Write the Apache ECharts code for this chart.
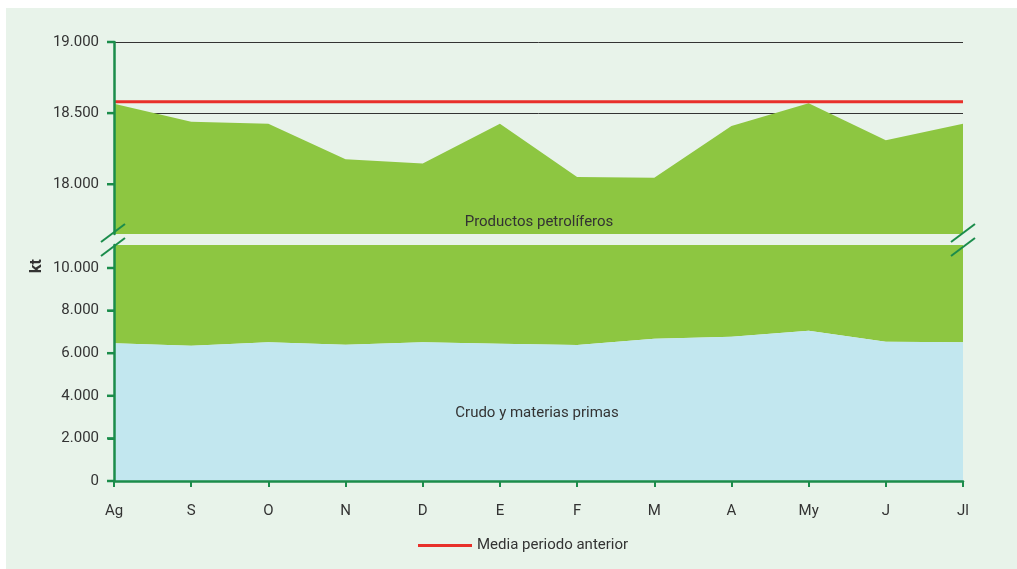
<!DOCTYPE html>
<html>
<head>
<meta charset="utf-8">
<script src="https://cdn.jsdelivr.net/npm/echarts@6/dist/echarts.min.js"></script>
<style>
html,body{margin:0;padding:0;background:#fff;}
#c{width:1017px;height:569px;}
</style>
</head>
<body>
<div id="c"></div>
<script>
const months = ['Ag','S','O','N','D','E','F','M','A','My','J','Jl'];
const crude = [6465, 6350, 6510, 6400, 6510, 6445, 6385, 6680, 6775, 7055, 6540, 6510];
const products = [12100, 12090, 11915, 11775, 11635, 11980, 11665, 11365, 11635, 11515, 11770, 11915];
const prevMean = 18580;
const topTicks = [18000, 18500, 19000];
const bottomTicks = [0, 2000, 4000, 6000, 8000, 10000];

const totals = crude.map((v, i) => v + products[i]);
const meanLine = months.map(() => prevMean);

const FONT = 'Roboto, "Liberation Sans", sans-serif';
const GREEN_AXIS = '#1b8c4b';
const TXT = '#333333';
const fmt = v => String(v).replace(/\B(?=(\d{3})+(?!\d))/g, '.');

const chart = echarts.init(document.getElementById('c'), null, {renderer: 'canvas'});
const breakStyle = {stroke: GREEN_AXIS, lineWidth: 2};
const baseGraphics = [
  {type: 'rect', z: -100, silent: true, shape: {x: 6, y: 8, width: 1011, height: 561}, style: {fill: '#e8f3ea'}},
  {type: 'line', z: 100, shape: {x1: 101, y1: 242, x2: 125, y2: 224}, style: breakStyle},
  {type: 'line', z: 100, shape: {x1: 101, y1: 256, x2: 125, y2: 238}, style: breakStyle},
  {type: 'line', z: 100, shape: {x1: 951, y1: 242, x2: 975, y2: 224}, style: breakStyle},
  {type: 'line', z: 100, shape: {x1: 951, y1: 256, x2: 975, y2: 238}, style: breakStyle},
  {type: 'text', z: 100, x: 37, y: 266, rotation: Math.PI / 2, style: {text: 'kt', fill: TXT, font: 'bold 16px ' + FONT, textAlign: 'center', textVerticalAlign: 'middle'}},
  {type: 'text', z: 100, x: 539, y: 222, style: {text: 'Productos petrolíferos', fill: TXT, font: '15px ' + FONT, textAlign: 'center', textVerticalAlign: 'middle'}},
  {type: 'text', z: 100, x: 537, y: 413, style: {text: 'Crudo y materias primas', fill: TXT, font: '15px ' + FONT, textAlign: 'center', textVerticalAlign: 'middle'}}
];
const axisLineStyle = {show: true, lineStyle: {color: GREEN_AXIS, width: 2.5}};
const labelStyle = {color: TXT, fontSize: 15, margin: 15, fontFamily: FONT, formatter: fmt};
chart.setOption({
  animation: false,
  backgroundColor: '#ffffff',
  textStyle: {fontFamily: FONT},
  graphic: baseGraphics,
  legend: {
    data: ['Media periodo anterior'],
    left: 413, top: 533,
    itemWidth: 54, itemHeight: 14, itemGap: 10,
    textStyle: {fontFamily: FONT, fontSize: 15, color: TXT},
    icon: 'path://M0,0 L54,0 L54,3 L0,3 Z',
    itemStyle: {color: '#e8302a'}
  },
  grid: [
    {left: 114, right: 54, top: 42, height: 192},
    {left: 114, right: 54, top: 245, height: 236}
  ],
  xAxis: [
    {gridIndex: 0, type: 'category', data: months, boundaryGap: false, show: false},
    {gridIndex: 1, type: 'category', data: months, boundaryGap: false, z: 10,
     axisLine: {lineStyle: {color: GREEN_AXIS, width: 2.5}},
     axisTick: {show: true, length: 6, lineStyle: {color: GREEN_AXIS, width: 2}},
     axisLabel: {color: TXT, fontSize: 15, margin: 23, fontFamily: FONT}}
  ],
  yAxis: [
    // top grid: gridlines only (under the areas)
    {gridIndex: 0, type: 'value', min: 17650, max: 19000,
     axisLine: {show: false}, axisTick: {show: false, customValues: topTicks},
     axisLabel: {show: false, customValues: topTicks},
     splitLine: {show: true, lineStyle: {color: '#333333', width: 1}}},
    // bottom grid
    {gridIndex: 1, type: 'value', min: 0, max: 11080, interval: 2000, z: 10,
     axisLine: axisLineStyle,
     axisTick: {show: true, length: 6, customValues: bottomTicks, lineStyle: {color: GREEN_AXIS, width: 2}},
     axisLabel: Object.assign({customValues: bottomTicks}, labelStyle),
     splitLine: {show: false}},
    // top grid overlay: axis line, labels
    {gridIndex: 0, type: 'value', min: 17650, max: 19000, z: 10, position: 'left',
     axisLine: axisLineStyle,
     axisTick: {show: true, length: 6, customValues: topTicks, lineStyle: {color: GREEN_AXIS, width: 2}},
     axisLabel: Object.assign({customValues: topTicks}, labelStyle),
     splitLine: {show: false}}
  ],
  series: [
    {name: 'Productos petrolíferos (sup)', type: 'line', xAxisIndex: 0, yAxisIndex: 0, data: totals,
     symbol: 'none', lineStyle: {width: 0}, areaStyle: {color: '#8dc641', opacity: 1, origin: 'start'}, z: 2},
    {name: 'Media periodo anterior', type: 'line', xAxisIndex: 0, yAxisIndex: 0, data: meanLine,
     symbol: 'none', lineStyle: {color: '#e8302a', width: 3}, itemStyle: {color: '#e8302a'}, z: 5},
    {name: 'Crudo y materias primas', type: 'line', xAxisIndex: 1, yAxisIndex: 1, data: crude, stack: 'tot',
     symbol: 'none', lineStyle: {width: 0}, areaStyle: {color: '#c2e7ef', opacity: 1}, z: 3},
    {name: 'Productos petrolíferos', type: 'line', xAxisIndex: 1, yAxisIndex: 1, data: products, stack: 'tot',
     symbol: 'none', lineStyle: {width: 0}, areaStyle: {color: '#8dc641', opacity: 1}, z: 2}
  ]
});

// y-axis tick marks placed through the library's own scales
const tickMarks = [];
const addTicks = (vals, yAxisIndex) => {
  vals.forEach(v => {
    const y = chart.convertToPixel({yAxisIndex: yAxisIndex}, v);
    const x = chart.convertToPixel({xAxisIndex: yAxisIndex === 0 ? 0 : 1}, months[0]);
    tickMarks.push({type: 'line', z: 100, shape: {x1: x - 7, y1: y, x2: x, y2: y}, style: {stroke: GREEN_AXIS, lineWidth: 2.5}});
  });
};
addTicks(topTicks, 0);
addTicks(bottomTicks, 1);
chart.setOption({graphic: baseGraphics.concat(tickMarks)});
</script>
</body>
</html>
